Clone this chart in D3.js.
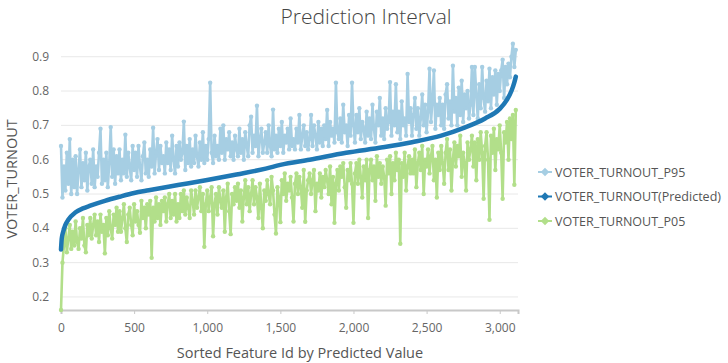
<!DOCTYPE html>
<html>
<head>
<meta charset="utf-8">
<script src="https://cdn.jsdelivr.net/npm/d3@7"></script>
<style>
  body { margin: 0; background: #fff; }
  text { font-family: "Open Sans", "Noto Sans", sans-serif; }
</style>
</head>
<body>
<div id="chart"></div>
<script>
// feature ids are sorted by predicted value, one reading every 10 ids
var idStep = 10;

var p95Values = [
  0.64, 0.49, 0.58, 0.51, 0.62, 0.53, 0.66, 0.50, 0.60, 0.52,
  0.61, 0.50, 0.57, 0.63, 0.52, 0.59, 0.54, 0.62, 0.51, 0.58,
  0.60, 0.53, 0.63, 0.52, 0.58, 0.55, 0.62, 0.69, 0.53, 0.60,
  0.54, 0.62, 0.52, 0.59, 0.695, 0.55, 0.63, 0.53, 0.61, 0.56,
  0.63, 0.54, 0.60, 0.56, 0.673, 0.55, 0.62, 0.58, 0.54, 0.64,
  0.57, 0.62, 0.55, 0.64, 0.58, 0.54, 0.61, 0.65, 0.56, 0.60,
  0.55, 0.63, 0.58, 0.693, 0.56, 0.62, 0.66, 0.57, 0.64, 0.59,
  0.61, 0.56, 0.65, 0.59, 0.63, 0.57, 0.67, 0.60, 0.56, 0.64,
  0.58, 0.65, 0.60, 0.62, 0.711, 0.57, 0.64, 0.59, 0.66, 0.58,
  0.63, 0.59, 0.67, 0.61, 0.58, 0.65, 0.60, 0.68, 0.59, 0.64,
  0.60, 0.66, 0.824, 0.62, 0.59, 0.67, 0.61, 0.64, 0.60, 0.69,
  0.62, 0.70, 0.60, 0.66, 0.63, 0.68, 0.61, 0.65, 0.60, 0.67,
  0.63, 0.61, 0.69, 0.62, 0.66, 0.60, 0.68, 0.64, 0.61, 0.70,
  0.725, 0.62, 0.67, 0.64, 0.757, 0.61, 0.66, 0.69, 0.62, 0.65,
  0.68, 0.62, 0.70, 0.64, 0.61, 0.746, 0.63, 0.67, 0.62, 0.69,
  0.64, 0.71, 0.62, 0.67, 0.65, 0.69, 0.63, 0.72, 0.64, 0.66,
  0.63, 0.69, 0.65, 0.73, 0.63, 0.67, 0.70, 0.64, 0.68, 0.63,
  0.66, 0.73, 0.64, 0.70, 0.67, 0.63, 0.71, 0.65, 0.69, 0.64,
  0.70, 0.66, 0.745, 0.64, 0.71, 0.67, 0.69, 0.65, 0.824, 0.68,
  0.66, 0.72, 0.65, 0.76, 0.68, 0.70, 0.64, 0.73, 0.67, 0.824,
  0.70, 0.65, 0.73, 0.68, 0.75, 0.66, 0.71, 0.69, 0.65, 0.74,
  0.67, 0.72, 0.66, 0.76, 0.69, 0.65, 0.74, 0.70, 0.78, 0.67,
  0.72, 0.66, 0.75, 0.69, 0.71, 0.826, 0.67, 0.74, 0.70, 0.82,
  0.68, 0.74, 0.66, 0.77, 0.70, 0.72, 0.67, 0.85, 0.71, 0.75,
  0.67, 0.73, 0.78, 0.69, 0.75, 0.67, 0.72, 0.79, 0.70, 0.76,
  0.68, 0.74, 0.865, 0.71, 0.77, 0.86, 0.69, 0.76, 0.73, 0.78,
  0.70, 0.76, 0.69, 0.79, 0.82, 0.72, 0.77, 0.70, 0.874, 0.74,
  0.78, 0.70, 0.81, 0.73, 0.83, 0.71, 0.79, 0.75, 0.80, 0.72,
  0.76, 0.87, 0.73, 0.87, 0.79, 0.72, 0.82, 0.75, 0.87, 0.78,
  0.74, 0.83, 0.77, 0.865, 0.75, 0.84, 0.79, 0.86, 0.76, 0.85,
  0.80, 0.86, 0.891, 0.78, 0.87, 0.82, 0.88, 0.84, 0.90, 0.938,
  0.87, 0.92
];

var p05Values = [
  0.162, 0.30, 0.35, 0.40, 0.33, 0.37, 0.41, 0.34, 0.39, 0.35,
  0.42, 0.36, 0.34, 0.40, 0.37, 0.43, 0.35, 0.33, 0.41, 0.38,
  0.43, 0.37, 0.41, 0.44, 0.38, 0.42, 0.36, 0.44, 0.39, 0.41,
  0.327, 0.43, 0.38, 0.45, 0.40, 0.37, 0.44, 0.41, 0.46, 0.39,
  0.45, 0.39, 0.43, 0.47, 0.40, 0.36, 0.44, 0.46, 0.41, 0.38,
  0.47, 0.42, 0.45, 0.41, 0.387, 0.48, 0.43, 0.46, 0.40, 0.47,
  0.44, 0.48, 0.314, 0.46, 0.42, 0.49, 0.43, 0.47, 0.41, 0.48,
  0.45, 0.49, 0.42, 0.47, 0.50, 0.43, 0.48, 0.44, 0.50, 0.42,
  0.47, 0.43, 0.50, 0.45, 0.51, 0.44, 0.49, 0.46, 0.43, 0.51,
  0.48, 0.44, 0.51, 0.46, 0.49, 0.52, 0.45, 0.50, 0.346, 0.47,
  0.51, 0.45, 0.49, 0.52, 0.377, 0.47, 0.50, 0.44, 0.52, 0.48,
  0.46, 0.51, 0.39, 0.49, 0.53, 0.45, 0.383, 0.50, 0.47, 0.52,
  0.48, 0.53, 0.46, 0.51, 0.42, 0.49, 0.54, 0.47, 0.52, 0.45,
  0.50, 0.54, 0.47, 0.52, 0.49, 0.43, 0.53, 0.46, 0.40, 0.51,
  0.48, 0.54, 0.50, 0.47, 0.55, 0.51, 0.44, 0.385, 0.52, 0.49,
  0.418, 0.54, 0.50, 0.56, 0.48, 0.53, 0.51, 0.55, 0.49, 0.42,
  0.53, 0.56, 0.50, 0.55, 0.52, 0.46, 0.57, 0.419, 0.51, 0.54,
  0.56, 0.50, 0.54, 0.57, 0.45, 0.53, 0.51, 0.56, 0.49, 0.55,
  0.52, 0.57, 0.54, 0.50, 0.58, 0.47, 0.55, 0.416, 0.53, 0.57,
  0.51, 0.58, 0.55, 0.59, 0.52, 0.46, 0.57, 0.54, 0.59, 0.53,
  0.416, 0.56, 0.59, 0.53, 0.60, 0.55, 0.49, 0.58, 0.54, 0.60,
  0.43, 0.57, 0.60, 0.54, 0.58, 0.48, 0.61, 0.55, 0.59, 0.53,
  0.58, 0.55, 0.466, 0.60, 0.56, 0.61, 0.50, 0.59, 0.54, 0.62,
  0.57, 0.60, 0.355, 0.59, 0.55, 0.62, 0.51, 0.58, 0.61, 0.56,
  0.60, 0.56, 0.63, 0.52, 0.59, 0.62, 0.57, 0.64, 0.50, 0.60,
  0.58, 0.63, 0.56, 0.61, 0.64, 0.54, 0.60, 0.49, 0.62, 0.57,
  0.64, 0.59, 0.53, 0.62, 0.66, 0.57, 0.63, 0.51, 0.60, 0.65,
  0.58, 0.64, 0.61, 0.67, 0.55, 0.62, 0.59, 0.51, 0.65, 0.60,
  0.63, 0.67, 0.58, 0.65, 0.54, 0.66, 0.60, 0.68, 0.62, 0.486,
  0.64, 0.68, 0.60, 0.425, 0.67, 0.62, 0.69, 0.57, 0.66, 0.63,
  0.70, 0.62, 0.486, 0.68, 0.65, 0.71, 0.60, 0.72, 0.66, 0.73,
  0.527, 0.745
];

// predicted value read at these sorted ids
var predictedIds = [0, 5, 15, 30, 50, 100, 150, 200, 300, 400, 500, 600, 800, 1000,
  1200, 1400, 1500, 1700, 1950, 2200, 2400, 2600, 2750, 2900, 3000, 3050, 3080, 3100, 3110];
var predictedValues = [0.338, 0.37, 0.39, 0.41, 0.425, 0.447, 0.458, 0.466, 0.48, 0.492, 0.503, 0.511, 0.526, 0.541,
  0.557, 0.574, 0.585, 0.6, 0.62, 0.636, 0.651, 0.67, 0.692, 0.72, 0.748, 0.775, 0.8, 0.825, 0.842];

var yTicks = [0.2, 0.3, 0.4, 0.5, 0.6, 0.7, 0.8, 0.9];
var xTicks = [0, 500, 1000, 1500, 2000, 2500, 3000];

var seriesNames = ["VOTER_TURNOUT_P95", "VOTER_TURNOUT(Predicted)", "VOTER_TURNOUT_P05"];
var seriesColors = ["#a6cee3", "#1f78b4", "#b2df8a"];

var svgwidth = 728;
var svgheight = 363;
var plot = { left: 61, right: 518, top: 43, bottom: 310 };

var svg = d3.select("#chart").append("svg")
    .attr("width", svgwidth).attr("height", svgheight);

var xLinear = d3.scaleLinear().domain([0, 3125]).range([plot.left, plot.right]);
var yLinear = d3.scaleLinear().domain([0.162, 0.94]).range([plot.bottom, plot.top]);

var p95 = p95Values.map((v, i) => ({ id: i * idStep, value: v }));
var p05 = p05Values.map((v, i) => ({ id: i * idStep, value: v }));
var predicted = predictedIds.map((id, i) => ({ id: id, value: predictedValues[i] }));

// gridlines
svg.append("g").selectAll("line")
    .data(yTicks)
    .enter().append("line")
    .attr("x1", plot.left).attr("x2", plot.right)
    .attr("y1", d => yLinear(d)).attr("y2", d => yLinear(d))
    .attr("stroke", "#e8e8e8").attr("stroke-width", 1);

// y tick labels
svg.append("g").selectAll("text")
    .data(yTicks)
    .enter().append("text")
    .attr("x", 49).attr("y", d => yLinear(d) + 4)
    .attr("text-anchor", "end")
    .attr("font-size", 12).attr("fill", "#666")
    .text(d => d3.format(".1f")(d));

// x axis
var bottomAxis = d3.axisBottom(xLinear).tickValues(xTicks).tickFormat(d3.format(",")).tickSize(4).tickPadding(9);
var xAxis = svg.append("g").attr("transform", `translate(0, ${plot.bottom})`).call(bottomAxis);
xAxis.select(".domain").attr("stroke", "#c8c8c8").attr("stroke-width", 2);
xAxis.selectAll(".tick line").attr("stroke", "#c8c8c8");
xAxis.selectAll(".tick text").attr("font-size", 12).attr("fill", "#666")
    .attr("font-family", "'Open Sans', 'Noto Sans', sans-serif");

var line = d3.line().x(d => xLinear(d.id)).y(d => yLinear(d.value));

function drawBand(data, color) {
    var g = svg.append("g");
    g.append("path")
        .datum(data)
        .attr("d", line)
        .attr("fill", "none")
        .attr("stroke", color)
        .attr("stroke-width", 2.6)
        .attr("stroke-linejoin", "round");
    g.selectAll("circle")
        .data(data)
        .enter().append("circle")
        .attr("cx", d => xLinear(d.id))
        .attr("cy", d => yLinear(d.value))
        .attr("r", 2.2)
        .attr("fill", color);
}

drawBand(p95, seriesColors[0]);
drawBand(p05, seriesColors[2]);

svg.append("path")
    .datum(predicted)
    .attr("d", d3.line().x(d => xLinear(d.id)).y(d => yLinear(d.value)).curve(d3.curveMonotoneX))
    .attr("fill", "none")
    .attr("stroke", seriesColors[1])
    .attr("stroke-width", 4.5)
    .attr("stroke-linecap", "round");

// title
svg.append("text")
    .attr("x", 366).attr("y", 24)
    .attr("text-anchor", "middle")
    .attr("font-size", 21).attr("font-weight", 300).attr("fill", "#444")
    .text("Prediction Interval");

// axis titles
svg.append("text")
    .attr("transform", "translate(17, 179) rotate(-90)")
    .attr("text-anchor", "middle")
    .attr("font-size", 14.5).attr("fill", "#555")
    .text("VOTER_TURNOUT");

svg.append("text")
    .attr("x", 300).attr("y", 358)
    .attr("text-anchor", "middle")
    .attr("font-size", 14.5).attr("fill", "#555")
    .text("Sorted Feature Id by Predicted Value");

// legend
var legend = svg.append("g").selectAll("g")
    .data(seriesNames)
    .enter().append("g")
    .attr("transform", (d, i) => `translate(545, ${172 + i * 24.5})`);

legend.append("line")
    .attr("x1", -7).attr("x2", 7)
    .attr("stroke", (d, i) => seriesColors[i]).attr("stroke-width", 2);
legend.append("rect")
    .attr("x", -3).attr("y", -3).attr("width", 6).attr("height", 6)
    .attr("transform", "rotate(45)")
    .attr("fill", (d, i) => seriesColors[i]);
legend.append("text")
    .attr("x", 10).attr("y", 4.5)
    .attr("font-size", 12.5).attr("fill", "#555")
    .text(d => d);
</script>
</body>
</html>
